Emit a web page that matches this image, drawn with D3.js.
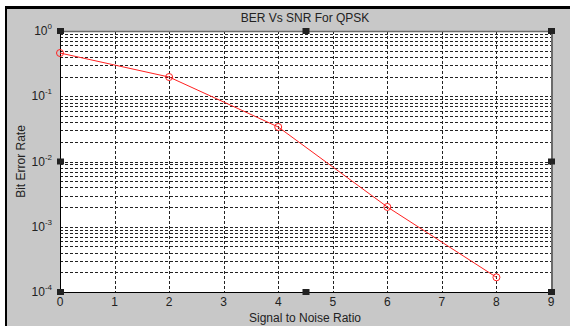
<!DOCTYPE html>
<html lang="en">
<head>
  <meta charset="utf-8" />
  <title>BER Vs SNR</title>
  <script src="https://d3js.org/d3.v7.min.js"></script>
  <style>
    body { margin: 0; background: #fff; font-family: "Liberation Sans", Arial, sans-serif; }
    .grid line { stroke: #222; stroke-width: 1; stroke-dasharray: 3,2; }
    .lbl { font-size: 12px; fill: #222; }
  </style>
</head>
<body>
<svg id="chart" width="570" height="326"></svg>
<script>
var snr = [0, 2, 4, 6, 8];
var ber = [0.46, 0.197, 0.0338, 0.00201, 0.000168];
var xTicks = [0, 1, 2, 3, 4, 5, 6, 7, 8, 9];
var yDecades = [0, -1, -2, -3, -4];

var svg = d3.select("#chart");
var pl = 60, pr = 551, pt = 31, pb = 292;

// figure background with frame
svg.append("rect").attr("x", 0).attr("y", 0).attr("width", 570).attr("height", 326).attr("fill", "#fff");
svg.append("rect").attr("x", 6).attr("y", 8).attr("width", 564).attr("height", 318).attr("fill", "#c8c8c8");
svg.append("line").attr("x1", 6).attr("x2", 570).attr("y1", 7.5).attr("y2", 7.5).attr("stroke", "#000").attr("stroke-width", 3);
svg.append("line").attr("x1", 6).attr("x2", 6).attr("y1", 6).attr("y2", 326).attr("stroke", "#000").attr("stroke-width", 2);

var x = d3.scaleLinear().domain([0, 9]).range([pl, pr]);
var y = d3.scaleLog().domain([1e-4, 1]).range([pb, pt]);

svg.append("rect").attr("x", pl).attr("y", pt).attr("width", pr - pl).attr("height", pb - pt).attr("fill", "#fff");

// grid
var grid = svg.append("g").attr("class", "grid");
var minor = [];
for (var d = -4; d < 0; d++) {
  for (var m = 2; m <= 9; m++) minor.push(m * Math.pow(10, d));
}
var majors = yDecades.map(function(e) { return Math.pow(10, e); }).filter(function(v) { return v > 1e-4 && v < 1; });
grid.selectAll(".gy").data(minor.concat(majors))
  .enter().append("line")
  .attr("x1", pl).attr("x2", pr)
  .attr("y1", function(v) { return Math.round(y(v)) + 0.5; })
  .attr("y2", function(v) { return Math.round(y(v)) + 0.5; });
grid.selectAll(".gx").data(xTicks.slice(1, -1)).enter().append("line")
  .attr("y1", pt).attr("y2", pb)
  .attr("x1", function(v) { return Math.round(x(v)) + 0.5; })
  .attr("x2", function(v) { return Math.round(x(v)) + 0.5; });

// axes box
svg.append("line").attr("x1", pl).attr("x2", pr + 1).attr("y1", pb + 0.5).attr("y2", pb + 0.5).attr("stroke", "#000");
svg.append("line").attr("x1", pl + 0.5).attr("x2", pl + 0.5).attr("y1", pt).attr("y2", pb).attr("stroke", "#000");
svg.append("line").attr("x1", pl).attr("x2", pr + 1).attr("y1", pt + 0.5).attr("y2", pt + 0.5).attr("stroke", "#6a6a6a").attr("stroke-width", 1.5);
svg.append("line").attr("x1", pr + 1).attr("x2", pr + 1).attr("y1", pt).attr("y2", pb + 1).attr("stroke", "#6a6a6a").attr("stroke-width", 2);

// x tick labels
svg.selectAll(".xl").data(xTicks).enter().append("text")
  .attr("class", "lbl").attr("text-anchor", "middle")
  .attr("x", function(v) { return x(v); }).attr("y", pb + 14)
  .text(function(v) { return v; });

// y tick labels 10^n
var yl = svg.selectAll(".yl").data(yDecades).enter().append("text")
  .attr("class", "lbl").attr("text-anchor", "end")
  .attr("x", pl - 8).attr("y", function(e) { return y(Math.pow(10, e)) + 4; });
yl.append("tspan").text("10");
yl.append("tspan").attr("dy", -6).attr("font-size", "8px").text(function(e) { return e; });

// titles
svg.append("text").attr("class", "lbl").attr("text-anchor", "middle")
  .attr("x", 305).attr("y", 22).text("BER Vs SNR For QPSK");
svg.append("text").attr("class", "lbl").attr("text-anchor", "middle")
  .attr("x", 305).attr("y", 322).text("Signal to Noise Ratio");
svg.append("text").attr("class", "lbl").attr("text-anchor", "middle")
  .attr("transform", "translate(25," + ((pt + pb) / 2) + ") rotate(-90)").text("Bit Error Rate");

// series
var pts = snr.map(function(s, i) { return [x(s), y(ber[i])]; });
svg.append("path").attr("d", d3.line()(pts)).attr("fill", "none").attr("stroke", "#ff2020").attr("stroke-width", 1);
svg.selectAll(".mk").data(pts).enter().append("circle")
  .attr("cx", function(p) { return p[0]; }).attr("cy", function(p) { return p[1]; })
  .attr("r", 3.5).attr("fill", "none").attr("stroke", "#ff2020").attr("stroke-width", 1);

// selection handles
var handles = [[0, 1], [9, 1], [0, 1e-4], [9, 1e-4], [4.5, 1], [4.5, 1e-4], [0, 1e-2], [9, 1e-2]];
svg.selectAll(".hd").data(handles).enter().append("rect")
  .attr("x", function(h) { return x(h[0]) - 3; }).attr("y", function(h) { return y(h[1]) - 3; })
  .attr("width", 7).attr("height", 6).attr("fill", "#222");
</script>
</body>
</html>
